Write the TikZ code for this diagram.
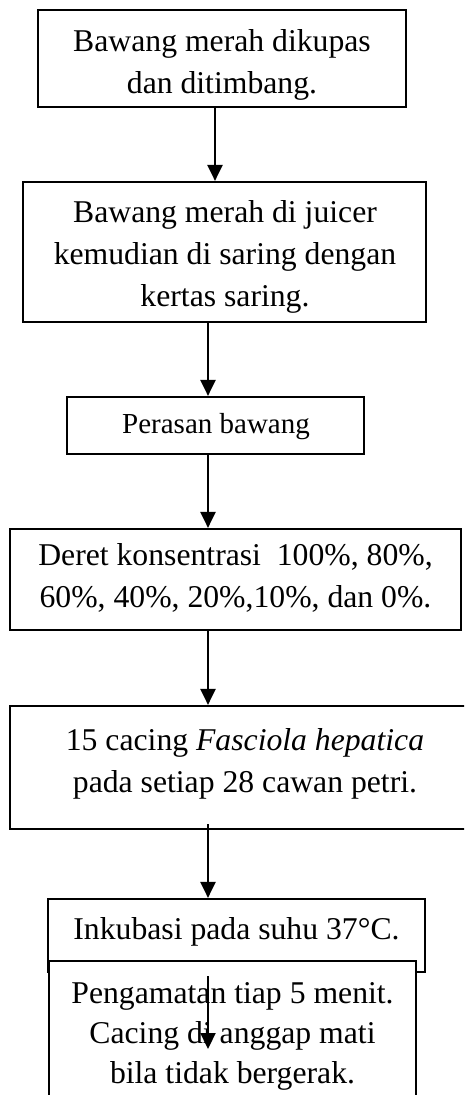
\documentclass[tikz,border=0pt]{standalone}
\usepackage{fontspec}
\setmainfont{Liberation Serif}
\usetikzlibrary{arrows.meta}

\begin{document}
\begin{tikzpicture}[x=1pt,y=-1pt,
    box/.style={draw,line width=2.2pt,fill=white,inner sep=0pt},
    txt/.style={anchor=north,inner sep=0pt,align=center,font=\fontsize{31.7}{42}\selectfont}]
      \useasboundingbox (0,0) rectangle (464,1095);
      \clip (0,0) rectangle (464,1095);
      \draw
        (222,58.5) node[box,minimum width=368pt,minimum height=97pt] (1){}
        (224.5,252) node[box,minimum width=403pt,minimum height=140pt] (2){}
        (215.5,425.5) node[box,minimum width=297pt,minimum height=57pt] (3){}
        (235.5,579.5) node[box,minimum width=451pt,minimum height=101pt] (4){}
        (245,767.5) node[box,minimum width=470pt,minimum height=123pt] (5){}
        (236.5,935.5) node[box,minimum width=377pt,minimum height=73pt] (6){}
        (232.5,1035.5) node[box,minimum width=367pt,minimum height=149pt] (7){};
      \draw
        (222,29) node[txt] (t1){Bawang merah dikupas\\dan ditimbang.}
        (225,200.4) node[txt] (t2){Bawang merah di juicer\\kemudian di saring dengan\\kertas saring.}
        (216,413) node[txt,font=\fontsize{29}{40}\selectfont] (t3){Perasan bawang}
        (235.5,543.4) node[txt] (t4){Deret konsentrasi\ \ 100\%, 80\%,\\60\%, 40\%, 20\%,10\%, dan 0\%.}
        (245,728.4) node[txt] (t5){15 cacing \textit{Fasciola hepatica}\\pada setiap 28 cawan petri.}
        (236.5,917.4) node[txt] (t6){Inkubasi pada suhu 37°C.}
        (232.5,982.4) node[txt,font=\fontsize{31.7}{40}\selectfont] (t7){Pengamatan tiap 5 menit.\\Cacing di anggap mati\\bila tidak bergerak.};
      \coordinate (end) at (208,1049);
      \begin{scope}[-{Triangle[width=15pt,length=16pt]},line width=2.2pt]
        \draw ([xshift=-7pt]1.south) -- ([xshift=-9.5pt]2.north);
        \draw ([xshift=-16.5pt]2.south) -- ([xshift=-7.5pt]3.north);
        \draw ([xshift=-7.5pt]3.south) -- ([xshift=-27.5pt]4.north);
        \draw ([xshift=-27.5pt]4.south) -- ([xshift=-37pt]5.north);
        \draw ([xshift=-37pt,yshift=6pt]5.south) -- ([xshift=-28.5pt]6.north);
        \draw ([xshift=-28.5pt,yshift=-3pt]6.south) -- (end);
      \end{scope}
    \end{tikzpicture}
\end{document}
